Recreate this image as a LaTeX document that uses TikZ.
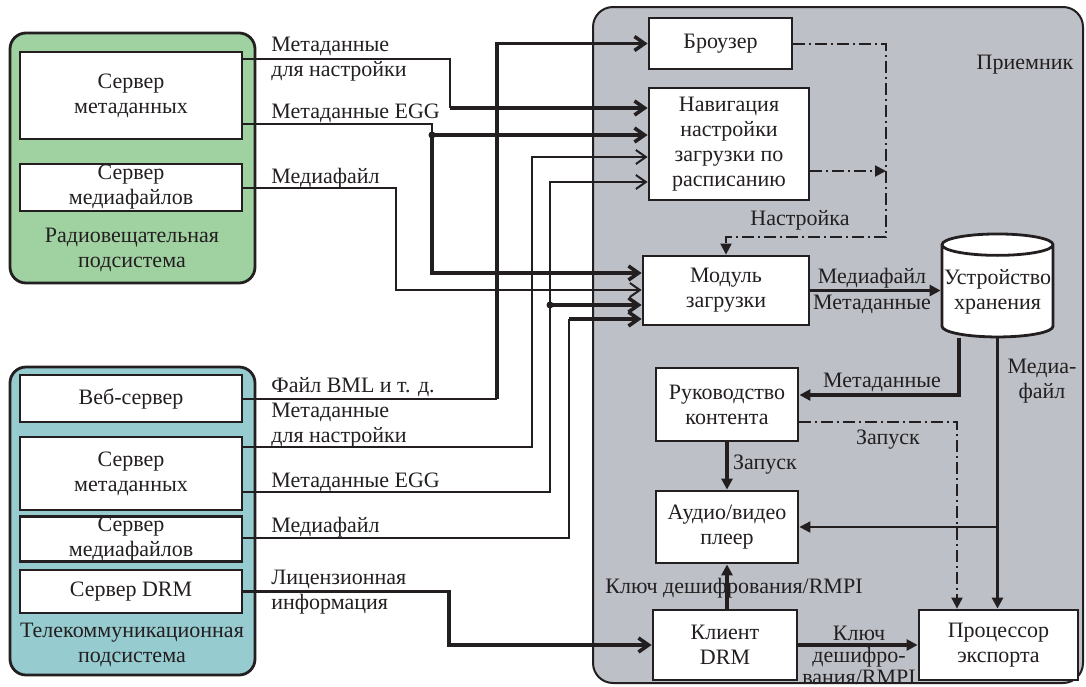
\documentclass[tikz,border=0pt]{standalone}
\usepackage{fontspec}
\setmainfont{Liberation Serif}
\usetikzlibrary{arrows.meta,shapes.geometric}

\definecolor{radiogreen}{RGB}{160,209,161}
\definecolor{telteal}{RGB}{150,203,207}
\definecolor{rxgray}{RGB}{189,192,199}
\definecolor{ink}{RGB}{35,31,32}

\newcommand{\dfont}{\fontsize{11}{12.5}\selectfont}

\begin{document}
\begin{tikzpicture}[x=0.5pt,y=-0.5pt,color=ink,font=\dfont,
    box/.style={draw=ink, line width=1.4pt, fill=white, align=center, inner sep=0pt},
    panel/.style={draw=ink, line width=1.4pt, rounded corners=8pt},
    lbl/.style={align=left, inner sep=0pt},
    feed/.style={draw=ink, line width=1pt},
    bus/.style={draw=ink, line width=1.8pt},
    ctrl/.style={draw=ink, line width=1pt, dash pattern=on 6pt off 2pt on 1pt off 2pt},
    barbhead/.style={-{Straight Barb[length=5pt,width=7pt]}},
    fillhead/.style={-{Triangle[length=5.5pt,width=5.5pt]}},
    joint/.style={circle, fill=ink, inner sep=0pt, minimum size=3.5pt}]
  \useasboundingbox (0,0) rectangle (1086,686);

  % Broadcast subsystem
  \draw[panel, fill=radiogreen] (10,33) rectangle (255,283);
  \node[box, minimum width=111pt, minimum height=43.5pt] (rmeta) at (131,95.5) {Сервер\\метаданных};
  \node[box, minimum width=111pt, minimum height=23.5pt] (rmedia) at (131,187.5) {Сервер\\медиафайлов};
  \node[align=center, inner sep=0pt] (radio) at (132,249.5) {Радиовещательная\\подсистема};

  % Telecom subsystem
  \draw[panel, fill=telteal] (10,367) rectangle (255,675);
  \node[box, minimum width=111pt, minimum height=23.5pt] (web) at (131,398.5) {Веб-сервер};
  \node[box, minimum width=111pt, minimum height=36.5pt] (tmeta) at (131,473.5) {Сервер\\метаданных};
  \node[box, minimum width=111pt, minimum height=22pt] (tmedia) at (131,539) {Сервер\\медиафайлов};
  \node[box, minimum width=111pt, minimum height=21.5pt] (tdrm) at (131,591.5) {Сервер DRM};
  \node[align=center, inner sep=0pt] (telecom) at (132,645) {Телекоммуникационная\\подсистема};

  % Receiver
  \draw[panel, fill=rxgray, line width=1pt, rounded corners=10pt] (593,7) rectangle (1083,683);
  \node (rx) at (1025,65) {Приемник};
  \node[box, minimum width=71.5pt, minimum height=25.5pt] (browser) at (720.5,43.5) {Броузер};
  \node[box, minimum width=80pt, minimum height=56pt] (navi) at (729,144) {Навигация\\настройки\\загрузки по\\расписанию};
  \node[box, minimum width=83pt, minimum height=34.5pt] (loader) at (726,290.5) {Модуль\\загрузки};
  \node[box, cylinder, shape border rotate=90, aspect=0.2, minimum width=55.5pt, minimum height=51.5pt] (storage) at (997.5,291.5) {Устройство\\хранения};
  \node[box, minimum width=71pt, minimum height=36.5pt] (guide) at (727,404.5) {Руководство\\контента};
  \node[box, minimum width=71pt, minimum height=36pt] (player) at (727,527) {Аудио/видео\\плеер};
  \node[box, minimum width=72pt, minimum height=35pt] (client) at (725,645) {Клиент\\DRM};
  \node[box, minimum width=79.5pt, minimum height=35pt] (export) at (998.5,645) {Процессор\\экспорта};

  % bus columns
  \coordinate (cM) at (396,0);
  \coordinate (cE) at (432,0);
  \coordinate (cL) at (449,0);
  \coordinate (cT) at (450,0);
  \coordinate (cW) at (497,0);
  \coordinate (cT2) at (532,0);
  \coordinate (cE2) at (550,0);
  \coordinate (cM2) at (569,0);
  \coordinate (cS) at (886,0);
  \coordinate (cG) at (957,0);
  \coordinate (cSm) at (959,0);
  % bus rows
  \coordinate (rT) at (0,59);
  \coordinate (rE) at (0,124);
  \coordinate (rM) at (0,188);
  \coordinate (nT) at (0,108);
  \coordinate (nE) at (0,135);
  \coordinate (nT2) at (0,157);
  \coordinate (nE2) at (0,182);
  \coordinate (nS) at (0,171);
  \coordinate (tn) at (0,237);
  \coordinate (lE) at (0,273);
  \coordinate (lM) at (0,290);
  \coordinate (lE2) at (0,305);
  \coordinate (lM2) at (0,319);
  \coordinate (gM) at (0,395);
  \coordinate (gS) at (0,422);
  \coordinate (tT) at (0,447);
  \coordinate (tE) at (0,492);
  \coordinate (tM) at (0,538);

  % Broadcast feeds
  \draw[feed] (rmeta.east |- rT) -| (cT |- nT);
  \draw[bus, barbhead] (cT |- nT) -- (navi.west |- nT);
  \draw[feed] (rmeta.east |- rE) -| (cE |- nE);
  \node[joint] (j1) at (cE |- nE) {};
  \draw[bus, barbhead] (j1.center) -- (navi.west |- nE);
  \draw[bus, barbhead] (j1.center) |- (loader.west |- lE);
  \draw[feed, barbhead] (rmedia.east |- rM) -| (cM |- lM) -- (loader.west |- lM);

  % Telecom feeds
  \draw[feed] (web.east) -- (web.east -| cW);
  \draw[bus, barbhead] (web.east -| cW) |- (browser.west);
  \draw[feed, barbhead] (tmeta.east |- tT) -| (cT2 |- nT2) -- (navi.west |- nT2);
  \draw[feed, barbhead] (tmeta.east |- tE) -| (cE2 |- nE2) -- (navi.west |- nE2);
  \node[joint] (j2) at (cE2 |- lE2) {};
  \draw[bus, barbhead] (j2.center) -- (loader.west |- lE2);
  \draw[feed] (tmedia.east |- tM) -| (cM2 |- lM2);
  \draw[bus, barbhead] (cM2 |- lM2) -- (loader.west |- lM2);
  \draw[bus, barbhead] (tdrm.east) -| (cL |- client.west) -- (client.west);

  % Receiver links
  \draw[ctrl, fillhead] (browser.east) -| (cS |- tn) -| (loader.north);
  \draw[ctrl, fillhead] (navi.east |- nS) -- (cS |- nS);
  \draw[bus, fillhead] (loader.east) -- (loader.east -| storage.west);
  \draw[bus, fillhead] (cSm |- storage.south) |- (guide.east |- gM);
  \draw[bus, fillhead] (storage.south) -- (storage.south |- export.north);
  \draw[feed, fillhead] (storage.south |- player.east) -- (player.east);
  \draw[ctrl, fillhead] (guide.east |- gS) -| (cG |- export.north);
  \draw[bus, fillhead] (guide.south) -- (player.north);
  \draw[bus, fillhead] (player.south |- client.north) -- (player.south);
  \draw[bus, fillhead] (client.east) -- (export.west);

  % Feed labels
  \node[lbl, anchor=west] (lrtune) at (271,59) {Метаданные\\для настройки};
  \node[lbl, anchor=base west] (lregg) at (271,118) {Метаданные EGG};
  \node[lbl, anchor=base west] (lrmedia) at (271,183) {Медиафайл};
  \node[lbl, anchor=base west] (lweb) at (271,392) {Файл BML и т. д.};
  \node[lbl, anchor=west] (lttune) at (271,425) {Метаданные\\для настройки};
  \node[lbl, anchor=base west] (ltegg) at (271,487) {Метаданные EGG};
  \node[lbl, anchor=base west] (ltmedia) at (271,532) {Медиафайл};
  \node[lbl, anchor=west] (llic) at (271,592) {Лицензионная\\информация};

  % Receiver labels
  \node (lset) at (800,220) {Настройка};
  \node (lfile) at (872,278) {Медиафайл};
  \node (lmeta) at (872,304) {Метаданные};
  \node (lgmeta) at (882,382) {Метаданные};
  \node[align=center] (lsfile) at (1042,381) {Медиа-\\файл};
  \node (lrun1) at (888,440) {Запуск};
  \node (lrun2) at (765,465) {Запуск};
  \node (lkey1) at (734,588) {Ключ дешифрования/RMPI};
  \node[align=center, inner sep=0pt, font=\fontsize{11}{11}\selectfont] (lkey2) at (859,655) {Ключ\\дешифро-\\вания/RMPI};
\end{tikzpicture}
\end{document}
